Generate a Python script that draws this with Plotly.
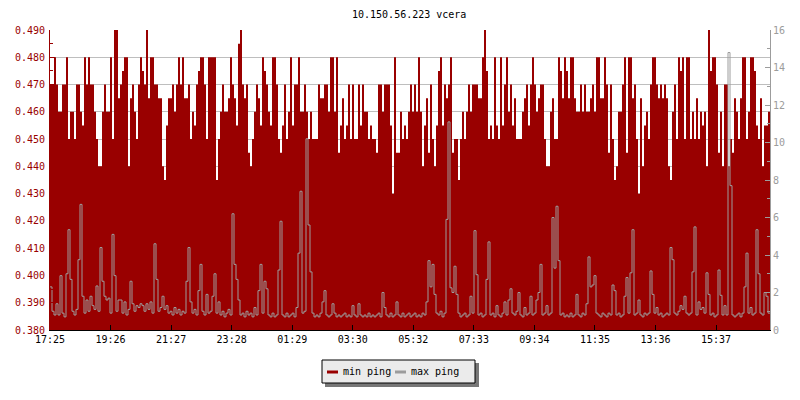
import plotly.graph_objects as go

TITLE = "10.150.56.223 vcera"
TICK_LABELS = ["17:25", "19:26", "21:27", "23:28", "01:29", "03:30",
               "05:32", "07:33", "09:34", "11:35", "13:36", "15:37"]
SAMPLE_MIN = 4          # minutes per sample
TICK_STEP_MIN = 121.1   # minutes between time labels

# min ping in microseconds (left axis, shown in ms)
MIN_PING_US = [
    470,470,480,470,460,460,470,470,480,450, 460,460,450,470,470,460,455,480,470,480,
    470,470,460,450,440,440,460,470,460,460, 480,450,490,490,465,470,475,480,480,440,
    465,470,460,450,470,480,475,470,490,465, 480,480,470,470,465,465,440,435,455,465,
    465,470,460,470,480,470,480,465,465,470, 450,460,455,470,475,480,480,470,450,480,
    480,480,480,435,450,460,470,460,460,465,
    480,470,465,455,485,490,470,465,470,445, 440,450,460,470,465,455,480,475,470,460,
    455,480,480,470,450,445,455,470,450,460, 480,455,470,470,480,460,460,470,460,450,
    460,450,450,450,470,465,465,470,470,460, 480,480,460,480,445,455,465,450,455,470,
    450,470,450,450,470,455,470,460,460,450, 455,450,450,445,470,470,460,470,470,470,
    455,430,480,445,445,460,450,455,450,460,
    470,460,470,460,480,460,440,455,465,445, 470,450,440,455,475,480,455,470,465,470,
    480,445,450,450,435,450,460,450,460,470, 460,470,470,470,465,465,480,490,475,450,
    455,450,480,455,450,480,455,470,480,460, 470,455,465,450,450,450,460,465,470,455,
    470,480,470,460,465,470,470,450,440,440, 460,465,450,450,480,475,465,480,475,465,
    480,480,465,460,460,470,460,470,460,460,
    465,470,460,480,480,465,465,480,470,445, 470,450,435,440,460,460,470,480,445,480,
    480,465,470,450,430,465,440,455,460,450, 470,480,480,470,465,470,465,470,465,440,
    435,460,470,450,480,475,480,450,480,480, 450,460,450,465,450,460,455,460,440,490,
    475,480,480,470,445,460,440,470,470,440, 450,445,465,460,450,465,480,480,450,460,
    480,480,475,455,450,465,440,455,455,460,
]

# max ping in ms (right axis)
MAX_PING_MS = [
    2.3,1.0,0.8,1.4,0.8,2.9,0.9,0.7,3.0,5.35, 2.7,1.0,0.8,1.1,3.75,6.7,1.8,0.9,1.6,1.0,
    1.8,1.3,1.1,2.35,1.0,4.4,2.6,1.8,1.6,1.7, 0.9,5.1,2.9,1.0,1.6,1.6,0.9,1.5,0.8,1.1,
    2.6,1.4,1.0,1.3,1.2,1.4,1.3,1.0,1.4,1.1, 1.5,0.9,4.6,2.7,1.0,1.2,1.8,1.1,1.3,0.9,
    1.0,0.8,1.2,0.9,1.1,0.8,1.0,0.9,2.6,4.4, 1.5,0.9,1.1,0.8,2.1,3.5,1.0,0.8,1.9,0.9,
    1.0,1.8,3.0,0.9,1.5,0.8,1.0,0.7,0.9,1.1, 0.8,6.2,3.5,2.7,1.6,0.8,0.9,0.7,1.0,0.8,
    0.9,0.7,1.2,0.8,2.1,3.5,0.9,2.6,2.2,0.8, 0.7,0.9,0.7,0.8,3.2,5.8,0.8,0.7,0.9,0.7,
    0.8,0.9,0.7,1.2,4.1,7.4,0.9,1.0,10.2,5.6, 3.1,0.9,0.7,0.8,0.7,0.9,1.5,2.1,0.8,0.7,
    0.8,1.4,0.9,0.7,0.8,0.7,0.8,0.9,0.7,0.8, 0.7,1.3,0.8,0.7,1.4,0.8,0.7,0.8,0.7,0.9,
    0.7,0.8,0.7,0.8,0.9,0.7,2.0,1.2,0.8,0.7, 0.9,0.7,0.8,1.5,0.8,0.7,0.9,0.7,0.8,0.9,
    0.7,0.8,0.9,0.7,0.8,0.7,0.9,0.8,1.5,3.7, 2.3,3.5,1.9,0.9,0.8,1.0,0.7,0.9,5.9,11.1,
    2.25,2.0,3.4,1.9,0.9,0.7,0.8,0.9,0.7,0.8, 1.8,0.9,5.3,2.95,0.8,0.9,0.7,0.8,2.7,4.7,
    0.8,0.9,0.7,1.3,0.8,0.7,0.9,1.5,0.8,1.6, 2.2,0.9,0.8,1.0,2.0,0.8,0.7,1.2,0.8,0.9,
    1.8,0.8,0.9,1.6,2.0,3.5,0.8,0.9,1.3,0.8, 0.9,6.0,3.3,6.6,3.7,0.8,0.9,0.7,0.8,0.7,
    0.9,0.7,0.8,1.9,0.8,0.7,0.9,0.8,1.4,3.9, 2.3,2.4,2.9,0.9,0.8,0.7,0.9,0.8,0.7,0.9,
    0.8,2.4,2.1,0.8,0.9,0.7,0.8,1.8,2.8,0.9, 3.05,5.35,0.8,0.9,1.6,0.8,0.7,0.9,0.8,0.9,
    3.15,1.9,0.9,1.2,0.8,0.9,0.7,0.8,0.9,0.8, 4.4,3.75,0.9,0.8,1.0,1.3,1.1,1.8,0.9,0.8,
    0.9,3.1,5.5,0.8,1.5,1.1,1.2,0.9,3.05,1.9, 0.8,0.9,0.7,0.8,3.2,1.85,0.8,1.3,0.8,14.8,
    7.7,0.8,0.7,0.8,0.9,0.7,0.9,2.3,4.1,0.9, 1.2,0.8,0.9,5.35,3.0,0.9,0.8,2.0,1.8,0.9,
]

RED = "#990000"
GRAY = "#9C9C9C"
FONT = "DejaVu Sans Mono"

n = len(MIN_PING_US)
t = [i * SAMPLE_MIN for i in range(n)]
min_ping = [v / 1000 for v in MIN_PING_US]
# extend last step to the end of the window
t_step = t + [n * SAMPLE_MIN]
min_fill = min_ping + [min_ping[-1]]
max_line = MAX_PING_MS + [MAX_PING_MS[-1]]

fig = go.Figure()
fig.add_trace(go.Scatter(
    x=t_step, y=min_fill, mode="lines", line=dict(width=0, shape="hv", color=RED),
    fill="tozeroy", fillcolor=RED, name="min ping", yaxis="y", hoverinfo="skip"))
fig.add_trace(go.Scatter(
    x=t_step, y=max_line, mode="lines", line=dict(width=1, color=GRAY, shape="hv"),
    name="max ping", yaxis="y2", hoverinfo="skip"))

tickvals = [k * TICK_STEP_MIN for k in range(len(TICK_LABELS))]

# page body has an 8px margin, so the figure is 792x392 placed at (8, 8)
fig.update_layout(
    width=792, height=392,
    margin=dict(l=42, r=30, t=22, b=70, autoexpand=False),
    paper_bgcolor="white", plot_bgcolor="white",
    showlegend=False,
    font=dict(family=FONT, size=10, color="black"),
    xaxis=dict(range=[0, n * SAMPLE_MIN], tickmode="array", tickvals=tickvals,
               ticktext=TICK_LABELS, ticks="inside", ticklen=5, tickcolor="black",
               showline=True, linecolor="black", linewidth=1, showgrid=False,
               zeroline=False, tickfont=dict(family=FONT, size=10, color="black")),
    yaxis=dict(range=[0.380, 0.490], dtick=0.01, tick0=0.38, tickformat=".3f",
               ticks="inside", ticklen=5, tickcolor=RED, showline=True,
               linecolor=RED, linewidth=1, showgrid=True, gridcolor="#BEBEBE",
               gridwidth=1, zeroline=False, ticklabelstandoff=2,
               tickfont=dict(family=FONT, size=10, color=RED),
               minor=dict(ticks="inside", ticklen=3, tickcolor=RED, dtick=0.005,
                          tick0=0.38, showgrid=False)),
    yaxis2=dict(range=[0, 16], dtick=2, overlaying="y", side="right",
                ticks="inside", ticklen=5, tickcolor=GRAY, showline=True,
                linecolor=GRAY, linewidth=1, showgrid=False, zeroline=False,
                tickfont=dict(family=FONT, size=10, color=GRAY),
                minor=dict(ticks="inside", ticklen=3, tickcolor=GRAY, dtick=1,
                           showgrid=False)),
)

# helpers: page pixel -> paper coordinates (plot area is x 50..770, y 30..330)
def px(x):
    return (x - 50) / 720

def py(y):
    return (330 - y) / 300

# title
fig.add_annotation(text=TITLE, xref="paper", yref="paper",
                   x=px(409), y=py(14.5),
                   xanchor="center", yanchor="middle", showarrow=False,
                   font=dict(family=FONT, size=10, color="black"))

# legend box (drawn manually, rrdtool style)
fig.add_shape(type="rect", xref="paper", yref="paper",
              x0=px(325), x1=px(479), y0=py(387), y1=py(363),
              fillcolor="#777777", line=dict(width=0), layer="above")
fig.add_shape(type="rect", xref="paper", yref="paper",
              x0=px(322), x1=px(475), y0=py(383), y1=py(360),
              fillcolor="#EBEBEB", line=dict(width=1, color="black"), layer="above")
fig.add_shape(type="line", xref="paper", yref="paper",
              x0=px(327), x1=px(338), y0=py(372), y1=py(372),
              line=dict(width=3, color=RED), layer="above")
fig.add_shape(type="line", xref="paper", yref="paper",
              x0=px(395), x1=px(406), y0=py(372), y1=py(372),
              line=dict(width=3, color=GRAY), layer="above")
fig.add_annotation(text="min ping", xref="paper", yref="paper",
                   x=px(341), y=py(371), xanchor="left", yanchor="middle",
                   showarrow=False, font=dict(family=FONT, size=10, color="black"))
fig.add_annotation(text="max ping", xref="paper", yref="paper",
                   x=px(409), y=py(371), xanchor="left", yanchor="middle",
                   showarrow=False, font=dict(family=FONT, size=10, color="black"))

fig.write_html("out.html")
